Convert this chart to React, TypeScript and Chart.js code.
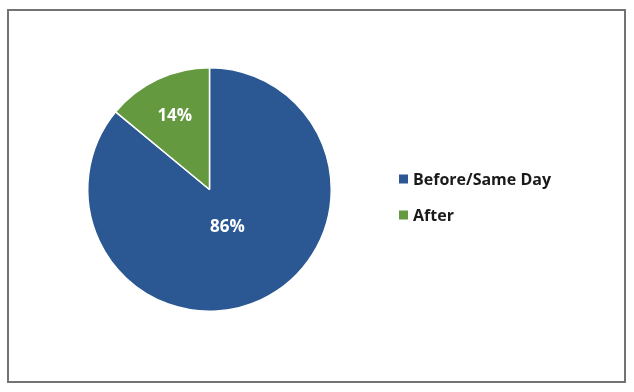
import React, { useEffect, useRef } from "react";
import { Chart, registerables } from "chart.js";

Chart.register(...registerables);

const categories = ["Before/Same Day", "After"];
const values = [86, 14];
const valueLabels = ["86%", "14%"];
const colors = ["#2B5792", "#64993F"];
const labelRadiusFractions = [0.345, 0.67];

const FONT = "'Open Sans', 'DejaVu Sans', sans-serif";

const labelPlugin = {
  id: "sliceLabels",
  afterDatasetsDraw(chart: any) {
    const ctx = chart.ctx;
    const meta = chart.getDatasetMeta(0);
    ctx.save();
    ctx.font = `bold 17px ${FONT}`;
    ctx.fillStyle = "#ffffff";
    ctx.textAlign = "center";
    ctx.textBaseline = "middle";
    meta.data.forEach((arc: any, i: number) => {
      const p = arc.getProps(["x", "y", "startAngle", "endAngle", "outerRadius"], true);
      const mid = (p.startAngle + p.endAngle) / 2;
      const r = p.outerRadius * labelRadiusFractions[i];
      ctx.fillText(valueLabels[i], p.x + Math.cos(mid) * r, p.y + Math.sin(mid) * r);
    });
    ctx.restore();
  },
};

const legendPlugin = {
  id: "sideLegend",
  afterDraw(chart: any) {
    const ctx = chart.ctx;
    ctx.save();
    ctx.font = `bold 16px ${FONT}`;
    ctx.textAlign = "left";
    ctx.textBaseline = "middle";
    const x0 = 399;
    const ys = [179, 215];
    categories.forEach((c, i) => {
      ctx.fillStyle = colors[i];
      ctx.fillRect(x0, ys[i] - 4.5, 9, 9);
      ctx.fillStyle = "#1a1a1a";
      ctx.fillText(c, x0 + 14, ys[i] + 1);
    });
    ctx.restore();
  },
};

export default function App() {
  const ref = useRef<HTMLCanvasElement>(null);
  useEffect(() => {
    if (!ref.current) return;
    const chart = new Chart(ref.current, {
      type: "pie",
      data: {
        labels: categories,
        datasets: [
          {
            data: values,
            backgroundColor: colors,
            borderColor: "#ffffff",
            borderWidth: 1.5,
          },
        ],
      },
      options: {
        responsive: false,
        animation: false,
        layout: { padding: { left: 87, top: 67, right: 302, bottom: 80 } },
        plugins: { legend: { display: false }, tooltip: { enabled: false } },
      },
      plugins: [labelPlugin, legendPlugin],
    });
    return () => chart.destroy();
  }, []);
  return (
    <div style={{ position: "fixed", left: 0, top: 0, width: 634, height: 392, background: "#fff" }}>
      <canvas ref={ref} width={634} height={392} style={{ position: "absolute", left: 0, top: 0 }} />
      <div
        style={{
          position: "absolute",
          left: 7,
          top: 9,
          width: 619,
          height: 374,
          border: "2px solid #737373",
          boxSizing: "border-box",
          pointerEvents: "none",
        }}
      />
    </div>
  );
}
